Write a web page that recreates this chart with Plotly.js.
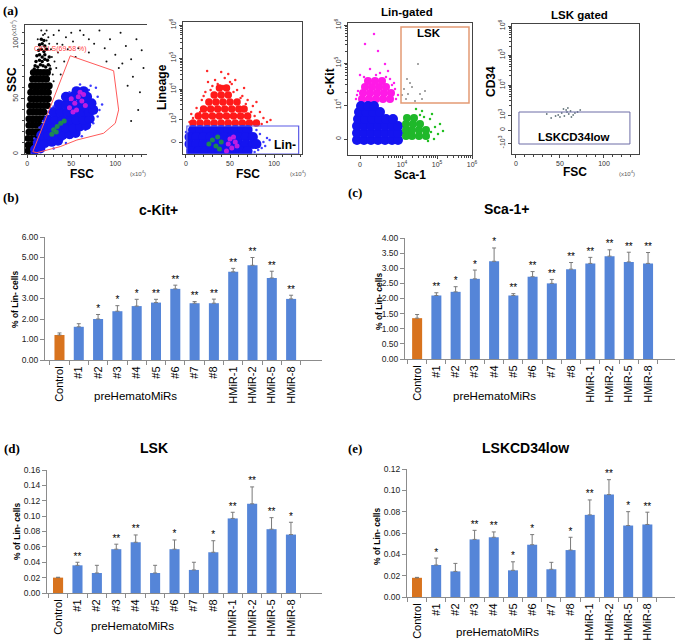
<!DOCTYPE html>
<html><head><meta charset="utf-8">
<script src="https://cdn.plot.ly/plotly-3.0.1.min.js"></script>
<style>html,body{margin:0;padding:0;background:#fff}#chart{width:677px;height:640px}</style>
</head><body><div id="chart"></div>
<script>
// ---------- bar chart data ----------
const cats = ['Control','#1','#2','#3','#4','#5','#6','#7','#8','HMiR-1','HMiR-2','HMiR-5','HMiR-8'];
const ckit    = [1.22,1.62,2.00,2.38,2.63,2.80,3.47,2.77,2.77,4.30,4.62,4.00,2.98];
const ckitErr = [0.10,0.15,0.22,0.27,0.33,0.16,0.18,0.08,0.20,0.17,0.38,0.33,0.18];
const ckitSig = ['','','*','*','*','**','**','**','**','**','**','**','**'];
const sca    = [1.35,2.10,2.22,2.65,3.23,2.10,2.72,2.50,2.97,3.16,3.40,3.21,3.16];
const scaErr = [0.12,0.09,0.17,0.29,0.44,0.06,0.17,0.13,0.22,0.20,0.21,0.32,0.36];
const scaSig = ['','**','*','*','*','**','**','**','**','**','**','**','**'];
const lsk    = [0.020,0.036,0.026,0.057,0.066,0.026,0.057,0.030,0.053,0.097,0.116,0.083,0.076];
const lskErr = [0.0005,0.004,0.010,0.0065,0.0095,0.010,0.012,0.010,0.015,0.008,0.022,0.015,0.016];
const lskSig = ['','**','','**','**','','*','','*','**','**','**','*'];
const cd34    = [0.018,0.030,0.024,0.054,0.056,0.025,0.049,0.026,0.044,0.077,0.096,0.067,0.068];
const cd34Err = [0.0004,0.0065,0.0075,0.0085,0.005,0.008,0.0095,0.0065,0.012,0.014,0.014,0.013,0.0115];
const cd34Sig = ['','*','','**','**','*','*','','*','**','**','*','**'];

// ---------- flow cytometry data (display units) ----------
const p1Black = [[1,3],[4,3],[1,8],[5,8],[8,8],[1,14],[5,14],[9,14],[2,20],[6,20],[10,20],[13,20],
 [2,26],[6,26],[10,26],[14,26],[2,32],[6,32],[10,32],[14,32],[18,32],[3,38],[7,38],[11,38],[15,38],[19,38],
 [3,44],[7,44],[11,44],[15,44],[19,44],[23,44],[4,50],[8,50],[12,50],[16,50],[20,50],[24,50],
 [4,56],[8,56],[12,56],[16,56],[20,56],[24,56],[5,62],[9,62],[13,62],[17,62],[21,62],[25,62],
 [6,68],[10,68],[14,68],[18,68],[22,68],[7,74],[11,74],[15,74],[19,74],[23,74]];
const p1BlackUpper = [[9,80],[12,79],[15,81],[18,80],[21,79],[24,81],[10,84],[14,85],[17,84],[20,86],[23,85],[11,89],[14,90],
 [17,88],[20,90],[13,94],[16,95],[19,93],[22,95],[14,99],[17,100],[20,98],[16,104],[19,103],[12,76],[26,77],[8,77],[25,88]];
const p1BlackSparse = [[25,100],[30,108],[35,92],[40,99],[28,88],[33,78],[38,72],[42,84],[46,95],[52,102],[58,96],[64,108],
 [70,92],[76,100],[82,112],[88,96],[94,104],[100,90],[106,110],[112,98],[118,86],[124,104],[130,94],[108,82],[120,70],
 [114,62],[128,56],[132,78],[60,112],[50,110],[44,106],[36,112],[22,112],[70,104],[90,84],[104,78],[55,88],[126,40],[118,30],
 [24,106],[27,95],[31,84],[26,80],[20,109],[18,108],[22,103],[29,72],[30,66],[12,104],[16,112],[34,100]];
const p1Blue = [[9,4],[15,5],[12,10],[20,10],[28,11],[35,12],[16,17],[24,17],[32,17],[40,17],[48,18],[55,19],
 [20,24],[28,24],[36,24],[44,24],[52,24],[60,25],[67,26],[24,31],[32,31],[40,31],[48,31],[56,31],[64,31],[71,32],
 [30,38],[38,38],[46,38],[54,38],[62,38],[70,38],[75,40],[36,45],[44,45],[52,45],[60,45],[68,45],[73,46],
 [44,52],[52,52],[60,52],[68,52],[56,57],[64,57]];
const p1BlueSparse = [[5,1],[22,7],[40,13],[58,19],[75,28],[82,40],[80,52],[72,62],[60,63],[48,56],[36,48],[24,38],[14,24],
 [8,14],[85,45],[30,5],[50,15],[66,22],[78,60],[44,10],[62,16],[80,34],[70,58],[30,43],[18,30]];
const p1Magenta = [[48,42],[54,46],[58,52],[62,48],[52,38],[56,40],[60,56],[66,44],[50,50],[64,54]];
const p1Green = [[30,22],[34,25],[38,28],[42,30],[33,20],[28,18]];
const cellsGateX = [6.4,48.9,98.1,103.8,100,86.7,56.4,37.5,11,6.4];
const cellsGateY = [2.1,89.1,75.5,40,27.9,18.8,12.7,6.7,1.2,2.1];

const p2Red = [[8,19],[16,19],[24,19],[32,19],[40,19],[48,19],[56,19],[64,19],[72,19],[80,19],
 [14,26],[22,26],[30,26],[38,26],[46,26],[54,26],[62,26],[70,26],[20,33],[28,33],[36,33],[44,33],[52,33],[60,33],[66,33],
 [26,40],[34,40],[42,40],[50,40],[58,40],[32,47],[40,47],[48,47],[38,54],[46,54]];
const p2RedSparse = [[25,60],[33,62],[52,58],[58,52],[64,46],[70,42],[76,36],[84,30],[88,24],[92,20],[6,28],[12,34],[18,42],
 [22,50],[44,64],[40,70],[30,56],[56,62],[66,54],[80,40],[24,71],[48,68],[14,24],[86,18],[96,22],[4,20],
 [74,30],[78,26],[8,24],[16,30],[68,38],[62,44],[20,46],[28,52],[54,50],[36,58],[50,60],[42,56]];
const p2Blue = [[8,12],[16,12],[24,12],[32,12],[40,12],[48,12],[56,12],[64,12],[70,12],
 [4,5],[12,5],[20,5],[28,5],[36,5],[44,5],[52,5],[60,5],[68,5],[76,5],
 [4,-2],[12,-2],[20,-2],[28,-2],[36,-2],[44,-2],[52,-2],[60,-2],[68,-2],[76,-2],[80,-2],
 [6,-9],[14,-9],[22,-9],[30,-9],[38,-9],[46,-9],[54,-9],[62,-9],[70,-9]];
const p2BlueSparse = [[84,8],[88,0],[86,-6],[80,12],[92,4],[78,-10],[2,-10],[0,10],[90,-4],[95,2],[74,14],[82,-8]];
const p2Green = [[30,2],[36,5],[40,0],[34,-4],[26,-2],[38,-7]];
const p2Magenta = [[48,-2],[52,-6],[56,0],[50,3],[46,-9],[58,-4],[54,5]];
const linGateX = [1,128], linGateY = [-12,16];

const p3Blue = [[-3,-1],[4,-1],[11,-1],[18,-1],[25,-1],[32,-1],[38,-1],[-3,6],[4,6],[11,6],[18,6],[25,6],[32,6],[38,6],
 [-3,13],[4,13],[11,13],[18,13],[25,13],[32,13],[38,13],[-2,20],[5,20],[12,20],[19,20],[26,20],[33,20],
 [-1,27],[6,27],[13,27],[20,27],[1,33],[8,33],[14,33]];
const p3Magenta = [[2,40],[9,40],[16,40],[23,40],[30,40],[3,46],[10,46],[17,46],[24,46],[31,46],[5,52],[12,52],[19,52],[26,52],
 [8,58],[15,58],[22,58]];
const p3MagentaSparse = [[0,64],[10,70],[20,66],[30,60],[35,50],[38,44],[-2,48],[25,75],[5,95],[14,105],[18,88],[34,56],[28,68],[-4,40],
 [4,62],[16,64],[26,62],[36,40],[-3,44],[32,54]];
const p3Green = [[46,3],[52,3],[59,3],[66,3],[46,9],[52,9],[59,9],[66,9],[46,15],[53,15],[60,15],[47,21],[54,21]];
const p3GreenSparse = [[70,20],[75,12],[78,5],[72,25],[62,28],[68,-2],[80,15],[56,30],[74,0],[64,22],[83,8],[71,7],[60,24]];
const p3Gray = [[44,50],[48,45],[52,52],[46,40],[55,38],[60,45],[50,56],[42,44],[65,48],[58,75],[47,60],[62,40]];
const lskGateX = [41,109], lskGateY = [36,112];

const p4Gray = [[48,15],[52,17],[55,14],[58,18],[60,16],[62,19],[65,15],[57,20],[50,13],[67,17],[45,14],[70,18],[54,21],[63,13],[40,12],[35,16],[73,20],[59,22]];
const cd34GateX = [3.4,129.5], cd34GateY = [-14,18];

// ---------- helpers ----------
const W = 677, H = 640;
const xd = (a,b) => [a/W, b/W];
const yd = (t,b) => [1-b/H, 1-t/H];
const X = a => a.map(d=>d[0]), Y = a => a.map(d=>d[1]);
function logMinors(majors){ const r=[]; for(let i=0;i<majors.length-1;i++){const a=majors[i],b=majors[i+1]; for(let k=2;k<=9;k++) r.push(a+(b-a)*Math.log10(k));} return r; }

const traces = [];
function cloud(pts, color, size, xa, ya, op){
  traces.push({type:'scatter', mode:'markers', x:X(pts), y:Y(pts), xaxis:xa, yaxis:ya,
    marker:{color, size, opacity:op===undefined?1:op, line:{width:0}}, hoverinfo:'skip'});
}
// plot 1
cloud(p1BlackSparse,'#111',2,'x','y');
cloud(p1BlackUpper,'#000',3.5,'x','y');
cloud(p1Black,'#000',7,'x','y');
cloud(p1BlueSparse,'#3a3aff',2.5,'x','y');
cloud(p1Blue,'#1414f0',10,'x','y');
cloud(p1Green,'#1f9a3a',5,'x','y',0.85);
cloud(p1Magenta,'#d81ee0',5,'x','y',0.85);
traces.push({type:'scatter', mode:'lines', x:cellsGateX, y:cellsGateY, xaxis:'x', yaxis:'y', line:{color:'#ff5a5a', width:1}, hoverinfo:'skip'});
// plot 2
cloud(p2RedSparse,'#ff2a2a',2.5,'x2','y2');
cloud(p2Red,'#ff1a1a',7.5,'x2','y2');
cloud(p2BlueSparse,'#4040ff',2.5,'x2','y2');
cloud(p2Blue,'#1414f0',10,'x2','y2');
cloud(p2Green,'#1f9a3a',5,'x2','y2',0.85);
cloud(p2Magenta,'#d81ee0',5,'x2','y2',0.85);
// plot 3
cloud(p3MagentaSparse,'#ff22ee',2.5,'x3','y3');
cloud(p3Magenta,'#ff1ae6',8,'x3','y3');
cloud(p3Blue,'#1414f0',10,'x3','y3');
cloud(p3GreenSparse,'#22c022',2.5,'x3','y3');
cloud(p3Green,'#1fb82a',8,'x3','y3');
cloud(p3Gray,'#8a8a8a',2,'x3','y3');
// plot 4
cloud(p4Gray,'#6a7a80',1.8,'x4','y4');

// bars
const orange = '#D8731E', blue = '#5585D8';
const barColors = cats.map((c,i)=> i===0 ? orange : blue);
function barPanel(vals, errs, sig, xa, ya){
  traces.push({type:'bar', x:cats, y:vals, xaxis:xa, yaxis:ya, width:0.52,
    marker:{color:barColors, line:{width:0}},
    error_y:{type:'data', symmetric:false, array:errs, arrayminus:errs.map(()=>0), color:'#7a7a7a', thickness:1, width:2},
    hoverinfo:'skip'});
  traces.push({type:'scatter', mode:'text', x:cats, y:vals.map((v,i)=>v+errs[i]), text:sig, xaxis:xa, yaxis:ya,
    textposition:'top center', textfont:{family:'Arial', size:10, color:'#000000'}, hoverinfo:'skip', cliponaxis:false});
}
barPanel(ckit, ckitErr, ckitSig, 'x5','y5');
barPanel(sca, scaErr, scaSig, 'x6','y6');
barPanel(lsk, lskErr, lskSig, 'x7','y7');
barPanel(cd34, cd34Err, cd34Sig, 'x8','y8');

// axes
const flowTick = {family:'Arial', size:7, color:'#333'};
function fAx(o){ return Object.assign({showline:true, linecolor:'#444', linewidth:1, ticks:'outside', ticklen:3, tickwidth:1, tickcolor:'#444',
  tickfont:flowTick, showgrid:false, zeroline:false, fixedrange:true, tickmode:'array'}, o); }
const sup = n => '10<sup>'+n+'</sup>';
const layout = {
  width:W, height:H, margin:{l:0,r:0,t:0,b:0}, paper_bgcolor:'#fff', plot_bgcolor:'rgba(0,0,0,0)', showlegend:false,
  xaxis: fAx({domain:xd(25,147), range:[-2.5,136], anchor:'y', tickvals:[0,50,100], mirror:true,
    minor:{tickmode:'linear', tick0:0, dtick:10, ticklen:2, ticks:'outside', tickcolor:'#444'}}),
  yaxis: fAx({domain:yd(25,154), range:[0,117], anchor:'x', tickvals:[0,50,100], tickangle:-90,
    minor:{tickmode:'linear', tick0:0, dtick:10, ticklen:2, ticks:'outside', tickcolor:'#444'}}),
  xaxis2: fAx({domain:xd(183,302), range:[-3.4,131.8], anchor:'y2', tickvals:[0,50,100], mirror:true,
    minor:{tickmode:'linear', tick0:0, dtick:10, ticklen:2, ticks:'outside', tickcolor:'#444'}}),
  yaxis2: fAx({domain:yd(22,154), range:[-12,120], anchor:'x2', tickvals:[0,23,53,84,117], ticktext:['0',sup(3),sup(4),sup(5),sup(6)],
    tickangle:-90, mirror:true, minor:{tickmode:'array', tickvals:logMinors([23,53,84,117]), ticklen:2, ticks:'outside', tickcolor:'#444'}}),
  xaxis3: fAx({domain:xd(348,472), range:[-12,112], anchor:'y3', tickvals:[0,42,77,112], ticktext:['0',sup(4),sup(5),sup(6)], mirror:true,
    minor:{tickmode:'array', tickvals:logMinors([7,42,77,112]), ticklen:2, ticks:'outside', tickcolor:'#444'}}),
  yaxis3: fAx({domain:yd(23,155), range:[-16,116], anchor:'x3', tickvals:[0,34,76,114], ticktext:['0',sup(4),sup(5),sup(6)],
    tickangle:-90, mirror:true, minor:{tickmode:'array', tickvals:logMinors([34,76,114]), ticklen:2, ticks:'outside', tickcolor:'#444'}}),
  xaxis4: fAx({domain:xd(512,639), range:[-4.5,139.8], anchor:'y4', tickvals:[0,50,100], mirror:true,
    minor:{tickmode:'linear', tick0:0, dtick:10, ticklen:2, ticks:'outside', tickcolor:'#444'}}),
  yaxis4: fAx({domain:yd(24,154), range:[-24,106], anchor:'x4', tickvals:[-13,0,15,45,75,104], ticktext:['-'+sup(3),'0',sup(3),sup(4),sup(5),sup(6)],
    tickangle:-90, mirror:true, minor:{tickmode:'array', tickvals:logMinors([15,45,75,104]), ticklen:2, ticks:'outside', tickcolor:'#444'}}),
  shapes:[
    {type:'rect', xref:'x2', yref:'y2', x0:linGateX[0], x1:linGateX[1], y0:linGateY[0], y1:linGateY[1], line:{color:'#5a5ae6', width:1.2}},
    {type:'rect', xref:'x3', yref:'y3', x0:lskGateX[0], x1:lskGateX[1], y0:lskGateY[0], y1:lskGateY[1], line:{color:'#e39a74', width:1.5}},
    {type:'rect', xref:'x4', yref:'y4', x0:cd34GateX[0], x1:cd34GateX[1], y0:cd34GateY[0], y1:cd34GateY[1], line:{color:'#6c6ca6', width:1}}
  ],
  annotations:[]
};
function bX(dom, range, ya){ return {type:'category', domain:dom, range, anchor:ya, showline:true, linecolor:'#8c8c8c', linewidth:1,
  ticks:'outside', tickson:'boundaries', ticklen:4, tickcolor:'#8c8c8c', tickangle:-90, ticklabelstandoff:1,
  tickfont:{family:'Arial', size:11, color:'#000'}, showgrid:false, zeroline:false, fixedrange:true}; }
function bY(dom, range, dtick, xa){ return {domain:dom, range, dtick, anchor:xa, showline:true, linecolor:'#8c8c8c', linewidth:1,
  ticks:'outside', ticklen:4, tickcolor:'#8c8c8c', tickformat:'.2f', tickfont:{family:'Arial', size:8.5, color:'#222'},
  showgrid:false, zeroline:false, fixedrange:true}; }
layout.xaxis5 = bX(xd(45,322), [-0.75,13.6], 'y5');  layout.yaxis5 = bY(yd(237,360), [0,6], 1, 'x5');
layout.xaxis6 = bX(xd(405,675), [-0.63,13.4], 'y6'); layout.yaxis6 = bY(yd(238,359), [0,4], 0.5, 'x6');
layout.xaxis7 = bX(xd(47,322), [-0.57,13.6], 'y7');  layout.yaxis7 = bY(yd(470,593), [0,0.16], 0.02, 'x7');
layout.xaxis8 = bX(xd(407,675), [-0.52,13.44], 'y8'); layout.yaxis8 = bY(yd(469,597), [0,0.12], 0.02, 'x8');

function T(text, px, py, size, o){ o=o||{};
  layout.annotations.push({text, x:px/W, y:1-py/H, xref:'paper', yref:'paper', showarrow:false,
    font:{family:o.family||'Arial', size, color:o.color||'#000'}, xanchor:o.xa||'center', yanchor:'middle', textangle:o.rot||0}); }
const serif = {family:'Liberation Serif, Times New Roman, serif'};
T('<b>(a)</b>', 11, 10, 13, serif);
T('<b>(b)</b>', 11, 197, 13, serif);
T('<b>(c)</b>', 355, 193, 13, serif);
T('<b>(d)</b>', 12, 448, 13, serif);
T('<b>(e)</b>', 355, 448, 13, serif);
// flow texts
T('<b>SSC</b>', 12, 80, 12, {rot:-90});
T('(x10<sup>4</sup>)', 13, 28, 6, {rot:-90, color:'#555'});
T('<b>FSC</b>', 82, 174, 12);
T('(x10<sup>4</sup>)', 138, 173, 6, {color:'#555'});
T('<b>Lineage</b>', 162, 87, 12, {rot:-90});
T('<b>FSC</b>', 248, 174, 12);
T('(x10<sup>4</sup>)', 298, 173, 6, {color:'#555'});
T('<b>c-Kit</b>', 330, 82, 12, {rot:-90});
T('<b>Sca-1</b>', 410, 175, 12);
T('<b>CD34</b>', 491, 82, 12, {rot:-90});
T('<b>FSC</b>', 575, 172, 12);
T('(x10<sup>4</sup>)', 627, 173, 6, {color:'#555'});
T('<b>Lin-gated</b>', 407, 12, 11.5);
T('<b>LSK gated</b>', 579, 15, 11.5);
T('<b>LSK</b>', 429, 33, 11.5);
T('<b>Lin-</b>', 285, 145, 12);
T('<b>LSKCD34low</b>', 574, 137, 11.5);
T('CELLS(69.58 %)', 32, 49, 7, {color:'#ff4040', xa:'left'});
// bar texts
T('<b>c-Kit+</b>', 158, 210, 14);
T('<b>Sca-1+</b>', 507, 209, 14);
T('<b>LSK</b>', 154, 448, 14);
T('<b>LSKCD34low</b>', 525, 448, 14);
T('<b>% of Lin- cells</b>', 15, 300, 8.5, {rot:-90});
T('<b>% of Lin- cells</b>', 379, 302, 8.5, {rot:-90});
T('<b>% of Lin- cells</b>', 17, 532, 8.5, {rot:-90});
T('<b>% of Lin- cells</b>', 377, 537, 8.5, {rot:-90});
T('preHematoMiRs', 135, 396, 11.5);
T('preHematoMiRs', 494, 396, 11.5);
T('preHematoMiRs', 132, 626, 11.5);
T('preHematoMiRs', 497, 632, 11.5);

Plotly.newPlot('chart', traces, layout, {staticPlot:true, displayModeBar:false});
</script></body></html>
